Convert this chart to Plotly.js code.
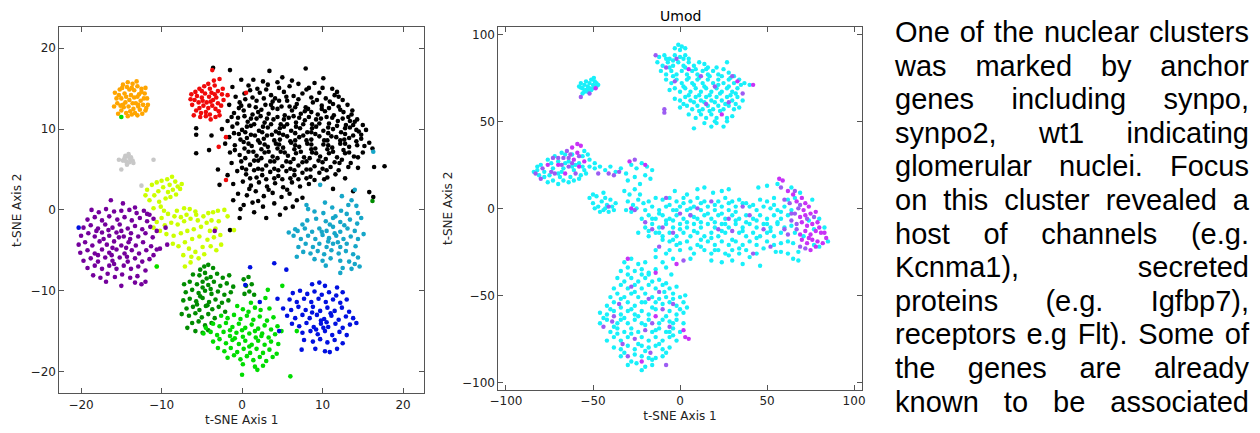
<!DOCTYPE html>
<html>
<head>
<meta charset="utf-8">
<script src="https://cdn.plot.ly/plotly-3.0.1.min.js"></script>
<style>
html,body{margin:0;padding:0;background:#fff;}
#wrap{position:relative;width:1260px;height:433px;overflow:hidden;}
#chart{position:absolute;left:0;top:0;width:1260px;height:433px;}
#para{position:absolute;left:895px;top:16px;width:354px;font-family:"Liberation Sans",Arial,sans-serif;font-size:29px;line-height:33.6px;color:#000;}
#para div{text-align:justify;text-align-last:justify;white-space:nowrap;}
</style>
</head>
<body>
<div id="wrap">
<div id="chart"></div>
<div id="para"></div>
</div>
<script>
// ---------- Left panel: cluster coordinates (t-SNE axis 1, axis 2) ----------
const orangePts = [[-15.8,14.5],[-15.5,13.2],[-15.9,12.8],[-15.2,14.9],[-14.8,15.5],[-14.2,15.8],[-13.6,15.6],[-13.0,15.3],[-12.5,15.0],[-12.1,14.4],[-11.8,13.8],[-11.7,13.0],[-12.0,12.3],[-12.4,11.9],[-13.0,11.7],[-13.7,11.8],[-14.4,12.0],[-15.0,12.3],[-15.4,11.9],[-15.0,13.8],[-14.6,14.4],[-14.0,14.9],[-13.4,14.8],[-12.8,14.3],[-12.6,13.5],[-12.9,12.8],[-13.5,12.5],[-14.1,12.8],[-14.5,13.3],[-14.0,13.6],[-13.4,13.9],[-13.2,13.2],[-13.8,14.2],[-14.7,12.7],[-12.3,13.0],[-12.2,13.8],[-13.1,15.9],[-14.9,15.1],[-15.6,13.8],[-14.3,15.2],[-13.9,12.2],[-12.7,12.4],[-15.3,14.2],[-14.4,14.0],[-13.0,14.0],[-13.6,13.2],[-12.5,14.6],[-14.8,13.0],[-13.3,12.0],[-15.1,12.9],[-12.0,15.1],[-11.9,12.6],[-14.2,11.6],[-13.7,15.1],[-12.9,13.0]];
const grayPts = [[-14.6,6.4],[-14.2,6.6],[-13.9,6.3],[-14.4,6.0],[-14.0,5.9],[-13.6,6.1],[-14.8,6.1],[-14.1,6.9],[-13.5,5.8],[-15.3,6.2],[-14.3,5.6],[-15.0,5.0],[-11.0,6.2],[-12.5,3.0],[-13.8,6.5],[-14.5,6.7]];
const redPts = [[-6.3,14.3],[-5.8,14.6],[-5.3,15.0],[-4.7,15.3],[-4.0,15.0],[-3.4,15.4],[-3.0,14.7],[-2.5,14.3],[-2.3,13.6],[-2.6,12.9],[-2.9,12.2],[-3.3,11.5],[-3.9,11.2],[-4.5,11.6],[-5.1,12.0],[-5.7,12.3],[-6.0,11.7],[-6.2,13.0],[-5.9,13.6],[-5.4,13.3],[-5.0,13.9],[-4.6,14.4],[-4.1,14.0],[-3.6,13.6],[-3.2,13.9],[-3.7,12.9],[-4.2,12.6],[-4.8,12.9],[-5.3,12.6],[-4.4,13.3],[-3.9,13.4],[-3.0,13.2],[-2.8,11.7],[-4.5,12.1],[-5.6,14.1],[-4.2,15.6],[-3.5,16.0],[-3.7,17.3],[-2.8,16.2],[-5.0,14.7],[-3.3,12.5],[-4.0,11.8],[-6.4,13.7],[-5.2,11.5],[-2.4,15.0],[-1.8,14.2],[0.5,14.5],[-2.0,9.0],[-2.9,7.8],[-2.0,3.7],[-3.8,14.5],[-4.9,13.5],[-3.4,14.3]];
const blackPts = [[-3.6,17.6],[-1.5,17.3],[3.4,17.2],[7.9,17.5],[-0.1,16.1],[1.4,16.1],[2.6,15.9],[5.0,16.4],[6.2,16.0],[10.1,16.3],[4.4,15.8],[-1.2,15.2],[0.8,15.4],[1.9,15.0],[3.2,15.5],[4.6,15.1],[5.9,15.3],[7.0,15.6],[8.3,15.1],[9.0,15.7],[11.2,15.0],[11.8,14.6],[-0.8,14.0],[0.3,14.4],[1.3,13.9],[2.2,14.5],[3.6,14.2],[4.1,13.8],[5.2,14.6],[6.4,14.1],[7.5,14.4],[8.6,13.9],[9.6,14.5],[10.4,13.8],[11.5,14.2],[12.5,13.6],[-1.6,13.0],[-0.3,13.3],[0.9,12.9],[1.8,13.5],[2.9,13.0],[3.8,13.4],[4.9,12.8],[5.6,13.5],[6.8,13.1],[7.9,12.7],[8.8,13.3],[9.9,12.9],[10.9,13.4],[12.0,12.8],[13.1,13.0],[13.7,12.3],[-1.0,12.0],[0.2,12.3],[1.3,11.8],[2.4,12.4],[3.3,11.9],[4.4,12.5],[5.3,11.7],[6.2,12.3],[7.3,11.9],[8.2,12.5],[9.4,11.8],[10.3,12.2],[11.4,11.7],[12.6,12.1],[13.2,11.5],[14.3,11.2],[-5.7,10.1],[-1.8,11.0],[-0.5,11.4],[0.7,10.9],[1.8,11.3],[2.8,10.8],[3.9,11.2],[4.8,10.6],[5.8,11.4],[6.7,10.8],[7.8,11.1],[8.7,10.6],[9.8,11.3],[10.8,10.7],[11.9,11.0],[12.9,10.5],[14.0,10.9],[15.0,10.5],[-2.5,10.0],[-1.2,10.3],[0.0,9.9],[1.1,10.4],[2.1,9.8],[3.2,10.2],[4.2,9.7],[5.2,10.3],[6.1,9.8],[7.2,10.1],[8.1,9.6],[9.2,10.3],[10.1,9.8],[11.3,10.0],[12.3,9.6],[13.4,10.2],[14.5,9.7],[15.4,9.9],[-5.7,9.3],[-3.8,9.2],[-1.6,9.0],[-0.4,9.4],[0.6,8.9],[1.6,9.2],[2.7,8.8],[3.7,9.3],[4.7,8.7],[5.6,9.1],[6.6,8.6],[7.6,9.2],[8.6,8.7],[9.6,9.1],[10.6,8.6],[11.7,9.0],[12.7,8.7],[13.8,9.2],[14.8,8.8],[15.8,8.3],[-4.1,7.4],[-2.1,8.2],[-0.9,8.0],[0.2,8.4],[1.2,7.9],[2.2,8.3],[3.2,7.8],[4.2,8.2],[5.1,7.7],[6.1,8.3],[7.1,7.8],[8.1,8.2],[9.1,7.6],[10.1,8.1],[11.2,7.7],[12.2,8.2],[13.3,7.8],[14.3,8.0],[16.2,7.6],[-5.7,7.0],[-1.5,7.1],[-0.3,6.8],[0.8,7.2],[1.8,6.7],[2.8,7.1],[3.8,6.6],[4.8,7.2],[5.7,6.7],[6.7,7.0],[7.7,6.5],[8.7,7.1],[9.7,6.6],[10.8,7.0],[11.8,6.5],[12.8,7.0],[13.9,6.6],[15.0,7.1],[-3.0,5.0],[-1.3,5.8],[-0.1,6.0],[1.0,5.6],[2.0,6.1],[3.0,5.5],[4.0,6.0],[5.0,5.4],[6.0,5.9],[7.0,5.5],[8.0,6.0],[9.0,5.4],[10.0,5.9],[11.0,5.3],[12.1,5.8],[13.2,5.3],[14.4,5.2],[16.4,5.3],[17.7,5.4],[-1.8,4.3],[-0.6,4.8],[0.5,4.4],[1.5,4.9],[2.5,4.3],[3.5,4.7],[4.5,4.2],[5.5,4.8],[6.5,4.3],[7.5,4.6],[8.5,4.1],[9.6,4.6],[10.6,4.0],[11.6,4.4],[12.8,3.9],[-2.8,3.1],[-1.1,3.2],[0.1,3.5],[1.1,3.0],[2.1,3.4],[3.1,2.9],[4.1,3.3],[5.1,2.8],[6.2,3.4],[7.2,2.9],[8.3,3.2],[11.3,2.6],[13.8,2.3],[-0.5,2.0],[0.6,1.8],[1.7,2.3],[2.7,1.7],[3.8,2.1],[4.9,1.6],[5.9,2.0],[7.5,1.5],[16.3,1.6],[15.8,2.2],[-1.1,1.2],[0.2,0.6],[1.3,0.9],[2.6,0.4],[4.0,0.8],[5.4,0.2],[6.3,0.4],[-0.2,0.1],[-0.3,-1.0],[1.5,-0.3],[3.0,-1.0],[4.7,-0.6],[-1.5,-2.5],[0.4,13.7],[2.7,13.8],[4.6,13.5],[7.0,13.7],[9.3,13.6],[11.3,13.1],[-0.4,12.6],[1.7,12.7],[3.8,12.6],[5.9,12.8],[7.8,12.2],[9.9,12.5],[12.2,12.4],[0.3,11.6],[2.3,11.6],[4.4,11.5],[6.4,11.6],[8.3,11.5],[10.5,11.5],[12.5,11.3],[-0.6,10.7],[1.5,10.6],[3.6,10.6],[5.6,10.6],[7.6,10.6],[9.6,10.7],[11.8,10.4],[13.8,10.5],[0.4,9.6],[2.5,9.6],[4.6,9.5],[6.6,9.5],[8.6,9.6],[10.7,9.5],[12.8,9.4],[14.8,9.3],[-0.2,8.7],[2.0,8.6],[4.0,8.6],[6.0,8.5],[8.0,8.6],[10.2,8.6],[12.2,8.6],[14.2,8.5],[0.3,7.6],[2.4,7.5],[4.4,7.6],[6.5,7.5],[8.6,7.5],[10.6,7.5],[12.6,7.4],[0.4,6.4],[2.4,6.4],[4.4,6.4],[6.4,6.3],[8.4,6.4],[10.4,6.3],[12.4,6.2],[0.0,5.2],[2.0,5.1],[4.0,5.1],[6.0,5.1],[8.0,5.0],[10.0,5.1],[12.0,4.9],[1.0,3.9],[3.0,3.8],[5.0,3.8],[7.0,3.8],[9.0,3.7],
[1.0,14.8],[3.0,14.9],[5.5,14.0],[8.0,14.9],[10.0,15.1],[12.0,14.0],[-0.1,12.9],[2.0,12.1],[3.6,13.0],[6.6,12.7],[8.6,12.1],[10.8,12.6],[13.6,11.8],[-1.3,11.5],[1.1,11.3],[3.1,11.3],[5.2,11.2],[7.1,11.4],[9.2,11.2],[11.2,11.4],[13.4,11.0],[0.6,10.3],[2.6,10.3],[4.7,10.1],[6.7,10.3],[8.7,10.1],[10.7,10.2],[12.8,10.1],[14.2,9.9],[-1.0,9.5],[1.1,9.3],[3.1,9.2],[5.1,9.3],[7.1,9.0],[9.1,9.4],[11.1,9.1],[13.3,8.9],[0.8,8.2],[2.8,8.1],[4.6,8.1],[6.6,8.0],[8.6,8.1],[10.7,8.0],[12.8,8.2],[15.2,7.9],[-0.9,7.4],[1.4,7.2],[3.3,7.2],[5.3,7.1],[7.3,7.2],[9.2,7.0],[11.3,7.2],[13.3,7.1],[14.4,6.5],[1.5,6.1],[3.5,6.0],[5.5,6.0],[7.5,5.9],[9.5,6.1],[11.5,5.9],[13.5,5.8],[0.5,5.0],[2.5,5.0],[4.5,4.9],[6.5,4.9],[8.5,5.0],[10.5,4.9],[1.8,4.0],[4.0,3.9],[6.0,3.9],[8.0,3.9],[10.2,3.8],[0.9,2.6],[3.3,2.5],[5.6,2.5],[6.8,1.2],[2.0,1.1]];
const yellowPts = [[-11.8,2.5],[-11.2,3.1],[-10.6,3.4],[-10.0,3.6],[-9.3,3.8],[-8.7,4.1],[-8.3,3.5],[-8.0,2.9],[-8.6,2.5],[-9.2,2.2],[-9.8,2.8],[-10.4,2.3],[-10.9,1.8],[-11.5,1.2],[-10.3,1.0],[-9.5,1.4],[-8.9,1.6],[-8.2,1.9],[-7.7,2.6],[-7.5,3.2],[-9.0,3.1],[-10.1,0.4],[-11.0,0.2],[-12.0,1.8],[-7.2,0.2],[-6.5,0.1],[-5.8,-0.2],[-6.9,-0.6],[-7.6,-0.9],[-8.4,-0.8],[-9.2,-0.5],[-10.0,-1.0],[-10.6,-1.5],[-9.6,-1.9],[-8.8,-1.6],[-8.0,-1.8],[-7.2,-1.4],[-6.4,-1.1],[-5.5,-1.3],[-4.8,-0.8],[-4.2,-0.4],[-3.6,-0.3],[-3.0,-0.1],[-2.2,0.0],[-1.8,-0.8],[-4.4,-1.6],[-5.1,-2.1],[-6.0,-2.4],[-6.8,-2.6],[-7.6,-2.9],[-8.5,-3.2],[-9.4,-3.0],[-10.2,-2.6],[-11.0,-2.2],[-4.0,-2.6],[-3.3,-2.3],[-2.7,-3.1],[-3.5,-3.4],[-4.3,-3.7],[-5.3,-3.3],[-6.2,-3.6],[-7.1,-4.0],[-7.9,-4.5],[-8.6,-4.2],[-6.6,-4.8],[-5.8,-5.2],[-4.9,-4.6],[-3.9,-4.5],[-3.2,-5.0],[-2.6,-4.3],[-5.4,-6.0],[-6.3,-5.8],[-7.3,-5.6],[-7.1,-7.0],[-6.4,-6.5],[-10.6,-7.0],[-4.7,-5.5],[-2.9,-1.4],[-3.8,-1.3],[-5.7,-0.6],[-8.1,-0.1],[-9.7,-0.1],[-1.0,-2.5]];
const purplePts = [[-16.3,1.2],[-14.8,0.8],[-13.3,0.3],[-18.7,0.0],[-17.8,-0.3],[-16.9,0.1],[-15.9,-0.2],[-15.0,-0.1],[-14.0,0.0],[-13.1,-0.4],[-12.2,-0.1],[-11.5,-0.6],[-19.2,-1.2],[-18.3,-0.9],[-17.4,-1.3],[-16.5,-0.8],[-15.5,-1.2],[-14.6,-0.9],[-13.7,-1.3],[-12.7,-1.0],[-11.8,-1.4],[-11.0,-1.1],[-19.7,-2.2],[-18.8,-1.9],[-17.9,-2.3],[-17.0,-1.8],[-16.1,-2.2],[-15.2,-1.8],[-14.2,-2.3],[-13.3,-2.0],[-12.4,-2.4],[-11.4,-2.1],[-10.6,-2.6],[-20.0,-3.2],[-19.1,-2.9],[-18.3,-3.3],[-17.4,-2.8],[-16.5,-3.2],[-15.6,-2.8],[-14.7,-3.3],[-13.8,-2.9],[-12.9,-3.3],[-12.0,-2.9],[-11.1,-3.4],[-20.3,-4.3],[-19.5,-4.0],[-18.6,-4.4],[-17.7,-3.9],[-16.8,-4.3],[-15.9,-3.9],[-15.0,-4.4],[-14.1,-4.0],[-13.2,-4.4],[-12.3,-4.0],[-11.3,-4.5],[-10.6,-4.9],[-20.1,-5.3],[-19.2,-5.0],[-18.3,-5.4],[-17.4,-4.9],[-16.5,-5.3],[-15.6,-4.9],[-14.6,-5.4],[-13.7,-5.0],[-12.8,-5.4],[-11.9,-5.0],[-11.0,-5.6],[-19.7,-6.3],[-18.8,-6.0],[-17.9,-6.4],[-17.0,-5.9],[-16.1,-6.3],[-15.2,-5.9],[-14.2,-6.4],[-13.3,-6.0],[-12.4,-6.4],[-11.5,-6.1],[-19.2,-7.2],[-18.3,-6.9],[-17.4,-7.3],[-16.5,-6.9],[-15.6,-7.3],[-14.7,-6.9],[-13.8,-7.3],[-12.9,-7.0],[-12.0,-7.5],[-18.5,-8.1],[-17.6,-8.4],[-16.7,-7.9],[-15.8,-8.3],[-14.9,-8.0],[-13.9,-8.4],[-13.0,-8.2],[-12.0,-8.9],[-16.9,-8.9],[-15.0,-9.4],[-13.3,-9.0],[-12.5,-9.2],[-17.2,-3.6],[-16.1,-4.7],[-15.3,-3.4],[-14.4,-4.7],[-16.6,-2.5],[-15.0,-2.6],[-17.9,-5.6],[-14.3,-5.8],[-16.2,-5.6],[-13.9,-3.6],[-18.1,-2.6],[-15.9,-6.7],[-11.8,-0.5],[-9.3,-4.3],[-10.2,-4.8],[-3.4,-2.6],[-9.5,-2.2]];
const tealPts = [[14.0,2.5],[12.4,1.7],[13.6,1.2],[8.0,0.6],[13.2,0.6],[14.2,0.5],[10.3,0.9],[11.2,0.3],[9.0,-0.2],[12.3,-0.1],[13.0,-0.5],[14.4,-0.4],[11.6,-0.8],[10.1,-0.4],[8.2,0.1],[14.8,-1.0],[8.1,-1.3],[9.2,-1.1],[10.4,-1.4],[11.3,-1.0],[12.2,-1.5],[13.4,-1.2],[14.3,-1.7],[6.6,-2.4],[7.5,-1.8],[5.8,-2.8],[6.9,-2.6],[7.8,-2.3],[8.7,-2.7],[9.6,-2.3],[10.5,-2.6],[11.3,-2.1],[12.2,-2.7],[13.1,-2.3],[14.0,-2.6],[15.1,-3.0],[6.4,-3.2],[7.3,-3.6],[8.2,-3.2],[9.1,-3.6],[10.0,-3.1],[10.8,-3.5],[11.7,-3.2],[12.6,-3.6],[13.5,-3.3],[14.4,-3.6],[7.0,-4.6],[7.9,-4.2],[8.8,-4.6],[9.6,-4.2],[10.5,-4.6],[11.3,-4.2],[12.2,-4.6],[13.0,-4.2],[14.1,-4.5],[7.6,-5.2],[8.5,-5.4],[9.4,-5.1],[10.2,-5.5],[11.1,-5.0],[12.0,-5.4],[12.9,-5.1],[13.8,-5.5],[14.4,-5.9],[6.8,-5.8],[9.0,-6.1],[10.0,-6.3],[11.0,-6.0],[12.2,-6.3],[13.3,-6.4],[14.0,-6.7],[10.4,-6.9],[12.5,-7.2],[13.6,-7.3],[14.6,-7.0],[12.2,-7.8],[10.7,-3.9],[11.5,-2.9],[9.9,-2.7],[11.9,-4.0],[10.9,-1.8],[12.7,-1.9],[16.3,7.2],[9.7,3.1]];
const darkGreenPts = [[-4.7,-7.0],[-4.2,-6.8],[-3.6,-7.2],[-5.2,-7.4],[-6.1,-8.0],[-5.3,-8.1],[-4.6,-7.8],[-3.9,-8.3],[-3.1,-7.9],[-2.4,-8.4],[-1.6,-8.1],[0.2,-8.6],[0.8,-8.3],[-7.2,-9.2],[-6.5,-8.9],[-5.6,-9.2],[-4.9,-8.9],[-4.2,-9.3],[-3.5,-8.9],[-2.7,-9.4],[-1.9,-9.1],[-1.1,-9.5],[0.5,-9.4],[1.2,-9.2],[-7.0,-10.2],[-6.2,-9.9],[-5.4,-10.3],[-4.6,-10.0],[-3.8,-10.4],[-3.0,-10.1],[-2.2,-10.5],[-1.4,-10.2],[0.9,-10.1],[1.5,-10.5],[0.3,-10.4],[-7.3,-11.2],[-6.5,-11.0],[-5.7,-11.3],[-4.9,-10.9],[-4.1,-11.4],[-3.3,-11.1],[-2.5,-11.5],[-1.7,-11.2],[-6.9,-12.2],[-6.1,-12.0],[-5.3,-12.4],[-4.5,-11.9],[-3.7,-12.3],[-2.9,-12.0],[-2.1,-12.6],[-7.5,-12.9],[-6.6,-13.1],[-5.8,-12.8],[-5.0,-13.3],[-4.2,-12.9],[-3.4,-13.4],[-6.2,-14.0],[-5.4,-13.8],[-4.6,-14.3],[-3.8,-14.0],[-6.8,-14.6],[-5.8,-15.0],[-4.9,-15.2],[-4.2,-14.9],[-4.9,-9.6],[-4.4,-8.5],[-5.2,-10.7],[-3.9,-9.8],[-4.3,-11.8],[-5.6,-11.7],[16.2,1.1]];
const greenPts = [[1.1,-11.5],[2.9,-10.9],[-0.6,-11.9],[0.1,-12.3],[0.8,-12.6],[2.3,-12.4],[3.4,-12.2],[1.6,-12.1],[-2.6,-13.1],[-1.8,-13.4],[-1.0,-13.0],[-0.2,-13.5],[0.6,-13.1],[1.4,-13.6],[2.2,-13.2],[3.1,-13.7],[3.9,-13.3],[-4.5,-14.6],[-3.6,-14.1],[-2.8,-14.4],[-2.0,-14.0],[-1.2,-14.5],[-0.4,-14.1],[0.4,-14.6],[1.2,-14.2],[2.0,-14.7],[2.8,-14.3],[3.6,-14.8],[4.4,-14.4],[-4.8,-15.3],[-3.9,-15.1],[-3.1,-15.5],[-2.3,-15.1],[-1.5,-15.6],[-0.7,-15.2],[0.1,-15.7],[0.9,-15.3],[1.7,-15.8],[2.5,-15.3],[3.3,-15.8],[4.1,-15.4],[4.9,-15.0],[-3.6,-16.3],[-2.8,-16.0],[-2.0,-16.5],[-1.2,-16.1],[-0.4,-16.6],[0.4,-16.2],[1.2,-16.7],[2.0,-16.2],[2.8,-16.7],[3.6,-16.3],[4.5,-16.6],[-3.0,-17.1],[-2.2,-17.5],[-1.4,-17.1],[-0.6,-17.6],[0.2,-17.2],[1.0,-17.7],[1.8,-17.2],[2.6,-17.7],[3.4,-17.3],[4.3,-17.8],[-1.8,-18.3],[-1.0,-18.0],[-0.2,-18.5],[0.6,-18.1],[1.4,-18.6],[2.2,-18.2],[3.0,-18.7],[3.8,-18.2],[0.1,-19.1],[1.6,-19.4],[1.9,-19.8],[2.6,-19.3],[0.0,-20.4],[6.0,-20.6],[0.0,-14.9],[1.6,-15.0],[-1.5,-14.9],[0.9,-16.9],[-0.9,-15.9],[2.4,-15.6],[5.0,-9.4],[3.2,-9.9],[-15.0,11.5],[-10.6,-7.0],[6.8,-15.0]];
const bluePts = [[8.7,-9.2],[9.6,-9.0],[10.3,-9.4],[11.8,-9.6],[6.3,-10.3],[7.2,-10.0],[8.1,-10.4],[9.0,-10.1],[9.9,-10.5],[10.8,-10.2],[11.7,-10.6],[12.5,-10.2],[5.9,-11.1],[6.8,-11.4],[7.7,-11.0],[8.6,-11.4],[9.5,-11.0],[10.4,-11.4],[11.3,-11.1],[12.2,-11.5],[13.0,-11.1],[5.1,-12.2],[6.1,-12.4],[7.0,-12.0],[7.9,-12.4],[8.8,-12.0],[9.7,-12.5],[10.6,-12.1],[11.5,-12.5],[12.4,-12.1],[13.3,-12.6],[5.6,-13.1],[6.6,-13.4],[7.5,-13.0],[8.4,-13.4],[9.3,-13.0],[10.2,-13.5],[11.1,-13.1],[12.0,-13.6],[12.9,-13.2],[13.8,-13.4],[6.2,-14.1],[7.1,-14.4],[8.0,-14.0],[8.9,-14.5],[9.8,-14.1],[10.7,-14.5],[11.6,-14.1],[12.5,-14.6],[13.4,-14.2],[14.2,-14.0],[7.5,-15.2],[8.5,-15.0],[9.4,-15.4],[10.3,-15.0],[11.2,-15.5],[12.1,-15.1],[13.0,-15.5],[7.7,-16.1],[8.8,-16.3],[9.7,-16.0],[10.6,-16.4],[11.5,-16.1],[12.5,-16.5],[7.4,-17.3],[9.1,-17.2],[10.3,-17.5],[11.8,-17.2],[10.9,-17.6],[9.8,-13.7],[10.5,-13.9],[9.2,-14.8],[10.1,-14.6],[8.7,-12.7],[11.0,-12.8],[1.0,-7.1],[4.0,-6.6],[5.5,-7.4],[0.4,-9.3],[4.4,-11.0],[4.6,-15.0],[2.2,-11.4],[-20.3,-2.2]];

// ---------- Right panel (Umod): cyan = low, violet/magenta = high ----------
const umodLow = [[-58,70],[-57,72],[-56,69],[-55,71],[-54,73],[-53,70],[-52,72],[-51,74],[-50,71],[-49,73],[-48,70],[-47,71],[-55,67],[-53,67],[-51,68],[-56,66],[-54,68],[-50,69],[-48,72],[-57,69.5],[-52,69],[-49.5,75],
[-1,94],[1,93],[3,92],[0,91],[-3,92],[-12,87],[-9,88],[-6,86],[-3,88],[0,87],[3,88],[5,86],[-13,84],[-10,82],[-7,84],[-4,82],[-1,84],[2,82],[5,84],[8,82],[11,84],[14,83],[16,81],[27,84],[-11,79],[-8,77],[-5,79],[-2,77],[1,79],[4,77],[7,79],[10,77],[13,79],[16,77],[19,79],[22,77],[25,80],[28,78],[31,76],[-8,74],[-5,72],[-2,74],[1,72],[4,74],[7,72],[10,74],[13,72],[16,74],[19,72],[22,74],[25,72],[28,74],[31,72],[34,74],[37,72],[40,71],[-6,68],[-3,69],[0,67],[3,69],[6,67],[9,69],[12,67],[15,69],[18,67],[21,69],[24,67],[27,69],[30,67],[33,69],[-3,63],[0,62],[3,64],[6,62],[9,64],[12,62],[15,64],[18,62],[21,64],[24,62],[27,64],[30,62],[33,64],[36,62],[0,58],[4,59],[7,57],[10,59],[13,57],[16,59],[19,57],[22,59],[25,57],[28,59],[31,57],[34,58],[5,54],[9,52],[12,54],[15,52],[18,54],[21,52],[27,52],[30,53],[14,49],[18,47],[21,49],[25,47],[27,50],[8,46],
[-8,86],[-4,85],[2,86],[-6,81],[3,81],[9,80],[15,80],[21,81],[-4,76],[5,75],[11,75],[17,76],[24,76],[29,75],[35,71],[2,70],[8,71],[14,70],[22,71],[28,70],[32,66],[5,65],[11,65],[17,65],[23,66],[29,65],[2,60],[8,61],[14,61],[20,61],[26,60],[32,60],[11,56],[17,56],[23,56],[20,50],
[-82,24],[-76,28],[-70,27],[-64,27],[-58,26],[-52,28],[-49,26],[-73,23],[-67,23],[-61,22],[-55,22],[-52,24],[-49,23],[-84,21],[-81,19],[-78,21],[-75,19],[-69,18],[-63,18],[-57,19],[-54,20],[-76,15],[-73,16],[-70,14],[-67,16],[-64,15],[-61,16],[-58,17],[-68,32],[-62,31],[-56,30],[-53,31],[-55,33],
[-80,25],[-74,26],[-66,26],[-60,25],[-72,30],[-66,31],[-82,22],[-68,21],[-62,24],[-56,24],[-78,18],[-70,20],
[-46,24],[-43,22],[-40,24],[-37,21],[-34,23],[-31,20],[-28,25],[-25,23],[-22,26],[-19,24],[-16,22],[-30,16],[-26,18],[-23,14],[-20,19],[-17,17],
[-32,10],[-29,8],[-26,11],[-30,4],[-27,2],[-24,5],[-31,-1],[-28,-2],[-25,0],[-23,8],[-21,3],
[-52,6],[-50,3],[-48,7],[-47,1],[-45,4],[-44,-1],[-43,6],[-42,2],[-41,-2],[-40,5],[-39,1],[-38,-1],[-37,3],[-49,0],[-46,-2],[-43,0],[-50,8],[-44,9],
[-3,10],[4,8],[10,11],[14,12],[19,9],[24,10],[28,11],[45,12],[50,13],[-18,4],[-14,6],[-10,5],[-6,6],[-2,4],[2,6],[6,4],[10,6],[14,4],[22,4],[26,6],[30,4],[34,5],[38,3],[46,5],[50,4],[54,6],[-20,-1],[-16,1],[-12,-1],[-8,1],[-4,-1],[0,1],[4,-1],[8,1],[12,-1],[16,1],[20,-1],[24,1],[28,-1],[32,1],[40,1],[44,-1],[48,1],[52,0],[56,-1],[-22,-6],[-18,-4],[-14,-6],[-10,-4],[-6,-6],[-2,-4],[2,-6],[6,-4],[10,-6],[14,-4],[18,-6],[22,-4],[26,-6],[30,-4],[34,-6],[38,-4],[42,-6],[46,-4],[50,-6],[54,-4],[58,-6],[-20,-11],[-16,-9],[-12,-11],[-8,-9],[-4,-11],[0,-9],[4,-11],[8,-9],[12,-11],[16,-9],[20,-11],[24,-9],[28,-11],[32,-9],[36,-11],[40,-9],[44,-11],[48,-9],[52,-11],[56,-9],[-24,-14],[-18,-16],[-14,-14],[-10,-16],[-6,-14],[-2,-16],[2,-14],[6,-16],[10,-14],[14,-16],[18,-14],[22,-16],[26,-14],[34,-14],[38,-16],[42,-14],[46,-16],[50,-14],[54,-16],[58,-14],[-6,-19],[-2,-21],[4,-19],[10,-21],[16,-19],[20,-21],[24,-19],[28,-21],[32,-19],[36,-21],[40,-19],[44,-21],[50,-19],[54,-21],[58,-20],[-14,-24],[-8,-26],[0,-24],[8,-26],[14,-24],[18,-26],[22,-24],[26,-26],[30,-24],[34,-26],[38,-24],[44,-26],[55,-25],[58,-25],[-10,-31],[-4,-29],[6,-29],[18,-30],[24,-31],[30,-30],[36,-32],[46,-33],[65,-29],[68,-30],[-8,-34],[-18,-38],[-5,-38],
[-6,2],[-2,-1],[2,3],[6,0],[12,3],[16,-3],[20,2],[24,-3],[28,3],[32,-2],[36,3],[42,2],[-16,-6],[-12,-3],[-8,-7],[-4,-7],[4,-8],[8,-5],[12,-8],[20,-8],[26,-9],[32,-7],[38,-8],[44,-7],[50,-9],[-18,-13],[-12,-14],[-4,-18],[0,-12],[8,-13],[12,-18],[18,-17],[24,-13],[30,-18],[36,-13],[44,-17],[52,-13],[0,-20],[6,-23],[12,-22],[20,-24],[28,-27],[34,-23],[40,-28],[-10,-18],[-14,-28],[-6,-24],[48,-23],[56,-8],[58,-2],[54,2],
[64,12],[69,9],[76,5],[80,-6],[83,-11],[77,-12],[74,-7],[80,-22],[85,-19],[65,-20],[68,-25],[62,-26],[71,-16],[77,-21],[56,14],[62,5],[66,6],[60,1],[64,-1],[62,-4],[60,-11],[64,-10],[66,-14],[62,-19],
[-32,-31],[-28,-29],[-24,-32],[-20,-31],[-34,-36],[-30,-34],[-26,-36],[-22,-35],[-18,-37],[-14,-35],[-36,-40],[-32,-42],[-28,-40],[-24,-42],[-20,-40],[-16,-42],[-12,-41],[-8,-43],[-38,-46],[-34,-44],[-30,-46],[-26,-44],[-22,-46],[-18,-44],[-14,-46],[-10,-44],[-6,-46],[-2,-45],[-9,-48],[-40,-51],[-36,-49],[-32,-51],[-28,-49],[-24,-51],[-20,-49],[-16,-51],[-8,-51],[-4,-49],[0,-51],[3,-50],[-42,-56],[-38,-54],[-34,-57],[-30,-54],[-26,-56],[-22,-54],[-14,-54],[-10,-55],[-6,-54],[-2,-56],[2,-54],[4,-57],[-46,-60],[-42,-61],[-38,-59],[-34,-61],[-30,-59],[-26,-61],[-22,-59],[-18,-61],[-14,-58],[-6,-59],[-2,-61],[2,-60],[-46,-66],[-42,-64],[-36,-66],[-34,-64],[-30,-66],[-26,-64],[-22,-66],[-18,-64],[-10,-64],[-6,-65],[-2,-64],[2,-66],[-40,-71],[-36,-69],[-32,-71],[-28,-69],[-24,-71],[-20,-67],[-16,-71],[-12,-69],[-8,-71],[-4,-69],[0,-71],[-42,-76],[-38,-74],[-34,-76],[-30,-74],[-22,-74],[-18,-76],[-14,-74],[-10,-76],[-6,-74],[-2,-76],[-38,-80],[-34,-81],[-30,-79],[-26,-81],[-22,-79],[-18,-80],[-14,-79],[-10,-81],[-6,-80],[-34,-85],[-26,-84],[-22,-85],[-18,-86],[-14,-86],[-10,-85],[-30,-90],[-25,-89],[-20,-91],[-16,-90],[-22,-93],
[-30,-38],[-22,-38],[-26,-48],[-34,-52],[-20,-54],[-12,-52],[-4,-52],[-40,-58],[-28,-58],[-16,-57],[-8,-62],[0,-58],[-44,-63],[-32,-63],[-24,-62],[-12,-66],[-4,-66],[-38,-68],[-28,-72],[-14,-70],[-6,-71],[-36,-72],[-24,-78],[-12,-78],[-4,-73],[-32,-83],[-20,-82],[-8,-83],[-28,-88],[-16,-87]];
const umodMid = [[-57,64],[-52,66],[-14,88],[-8,81],[-3,73],[-9,57],[-9,55],[12,76],[20,70],[28,61],[30,76],[36,66],[15,60],[-2,86],
[-65,33],[-73,29],[-67,29],[-64,24],[-79,23],[-72,20],[-60,20],[-80,17],[-83,20],[-63,31],[-47,20],[-41,20],[-35,21],[-26,28],[-38,19],[-26,-1],[-41,1],
[-70,29],[-64,29],[-68,25],[-74,21],[-58,30],[-62,26],
[-8,6],[0,-3],[10,0],[18,4],[28,-6],[-16,-12],[-4,-14],[-12,-22],[2,-30],[30,-13],[36,1],[40,-4],[48,-12],[52,-22],[42,-26],[-10,-11],[6,-4],[22,-12],[-20,-8],
[58,12],[60,5],[63,3],[68,0],[66,-3],[64,-7],[67,-9],[60,-12],[62,-15],[69,-22],[72,-23],[66,10],[69,2],[73,-6],[77,-5],[67,-12],[64,-3],
[-35,-55],[-39,-65],[-28,-45],[-18,-52],[-10,-58],[-20,-70],[-26,-75],[-33,-78],[-17,-83],[-6,-68],[-4,-55],[-12,-48],[-44,-68],[-30,-85],[-8,-90],[-38,-62],[-16,-66]];
const umodHigh = [[-48.5,69],[5,80],[33,73],[24,54],[42,71],[-62,35],[-59,37],[-57,36],[-59,32],[-61,28],[-76,25],[-70,25],[-58,24],[-66,20],[-55,27],[-29,27],[-20,25],[-28,0],[-14,-37],[-2,-32],
[57,17],[59,16],[62,10],[65,8],[67,4],[70,6],[72,3],[71,-1],[74,1],[69,-5],[72,-4],[75,-3],[78,-2],[70,-8],[73,-10],[76,-9],[79,-8],[69,-15],[72,-13],[75,-15],[78,-13],[81,-14],[84,-17],[70,-18],[73,-20],[76,-18],[79,-19],[82,-20],[75,-24],[80,-11],[83,-14],[74,-17],[78,-22],
[-30,-29],[-14,-62],[-22,-88],[2,-70],[3,-74],[5,-75]];

// ---------- tick labels / text ----------
const leftTicks = [-20,-10,0,10,20];
const rightTicks = [-100,-50,0,50,100];
const fmt = v => (v < 0 ? '\u2212' + Math.abs(v) : String(v));
const paraLines = ["One of the nuclear clusters","was marked by anchor","genes including synpo,","synpo2, wt1 indicating","glomerular nuclei. Focus","on this cluster revealed a","host of channels (e.g.","Kcnma1), secreted","proteins (e.g. Igfbp7),","receptors e.g Flt). Some of","the genes are already","known to be associated"];

function tr(pts, color, xa, ya, size) {
  return {type:'scatter', mode:'markers', x:pts.map(p=>p[0]), y:pts.map(p=>p[1]),
    xaxis:xa, yaxis:ya, hoverinfo:'skip',
    marker:{color:color, size:size, line:{width:0}}};
}
const data = [
  tr(blackPts,'#000000','x','y',4.6),
  tr(redPts,'#f00a0a','x','y',4.6),
  tr(orangePts,'#ffa500','x','y',4.6),
  tr(grayPts,'#c8c8c8','x','y',4.6),
  tr(yellowPts,'#ccff00','x','y',4.6),
  tr(purplePts,'#74009c','x','y',4.6),
  tr(tealPts,'#16a6c8','x','y',4.6),
  tr(darkGreenPts,'#008c00','x','y',4.6),
  tr(greenPts,'#00dc00','x','y',4.6),
  tr(bluePts,'#0010e0','x','y',4.6),
  tr(umodLow,'#18f0fa','x2','y2',4.4),
  tr(umodMid,'#9c5cf2','x2','y2',4.4),
  tr(umodHigh,'#c832f6','x2','y2',4.4)
];

const tickFont = {family:'DejaVu Sans', size:12, color:'#222'};
const titleFont = {family:'DejaVu Sans', size:12, color:'#222'};
function ax(extra) {
  return Object.assign({
    showgrid:false, zeroline:false, showline:true, mirror:'ticks', linecolor:'#555', linewidth:1,
    ticks:'inside', ticklen:5, tickwidth:1, tickcolor:'#555', tickfont:tickFont, automargin:false, fixedrange:true
  }, extra);
}
const layout = {
  width:1260, height:433, margin:{l:0,r:0,t:0,b:0},
  paper_bgcolor:'#fff', plot_bgcolor:'#fff', showlegend:false,
  xaxis: ax({domain:[0.0471,0.3365], range:[-22.7,22.6], anchor:'y', tickvals:leftTicks, ticktext:leftTicks.map(fmt), title:{text:'t-SNE Axis 1', font:titleFont, standoff:4}}),
  yaxis: ax({domain:[0.0917,0.937], range:[-22.7,22.6], anchor:'x', tickvals:leftTicks, ticktext:leftTicks.map(fmt), title:{text:'t-SNE Axis 2', font:titleFont, standoff:6}}),
  xaxis2: ax({domain:[0.3955,0.6839], range:[-104.4,104.4], anchor:'y2', tickvals:rightTicks, ticktext:rightTicks.map(fmt), title:{text:'t-SNE Axis 1', font:titleFont, standoff:4}}),
  yaxis2: ax({domain:[0.0993,0.9383], range:[-104.4,104.4], anchor:'x2', tickvals:rightTicks, ticktext:rightTicks.map(fmt), title:{text:'t-SNE Axis 2', font:titleFont, standoff:6}}),
  annotations:[{text:'Umod', xref:'paper', yref:'paper', x:0.5397, y:0.963, xanchor:'center', yanchor:'middle', showarrow:false, font:{family:'DejaVu Sans', size:14, color:'#000'}}]
};
Plotly.newPlot('chart', data, layout, {staticPlot:true, displayModeBar:false});
document.getElementById('para').innerHTML = paraLines.map(l => '<div>' + l + '</div>').join('');
</script>
</body>
</html>
